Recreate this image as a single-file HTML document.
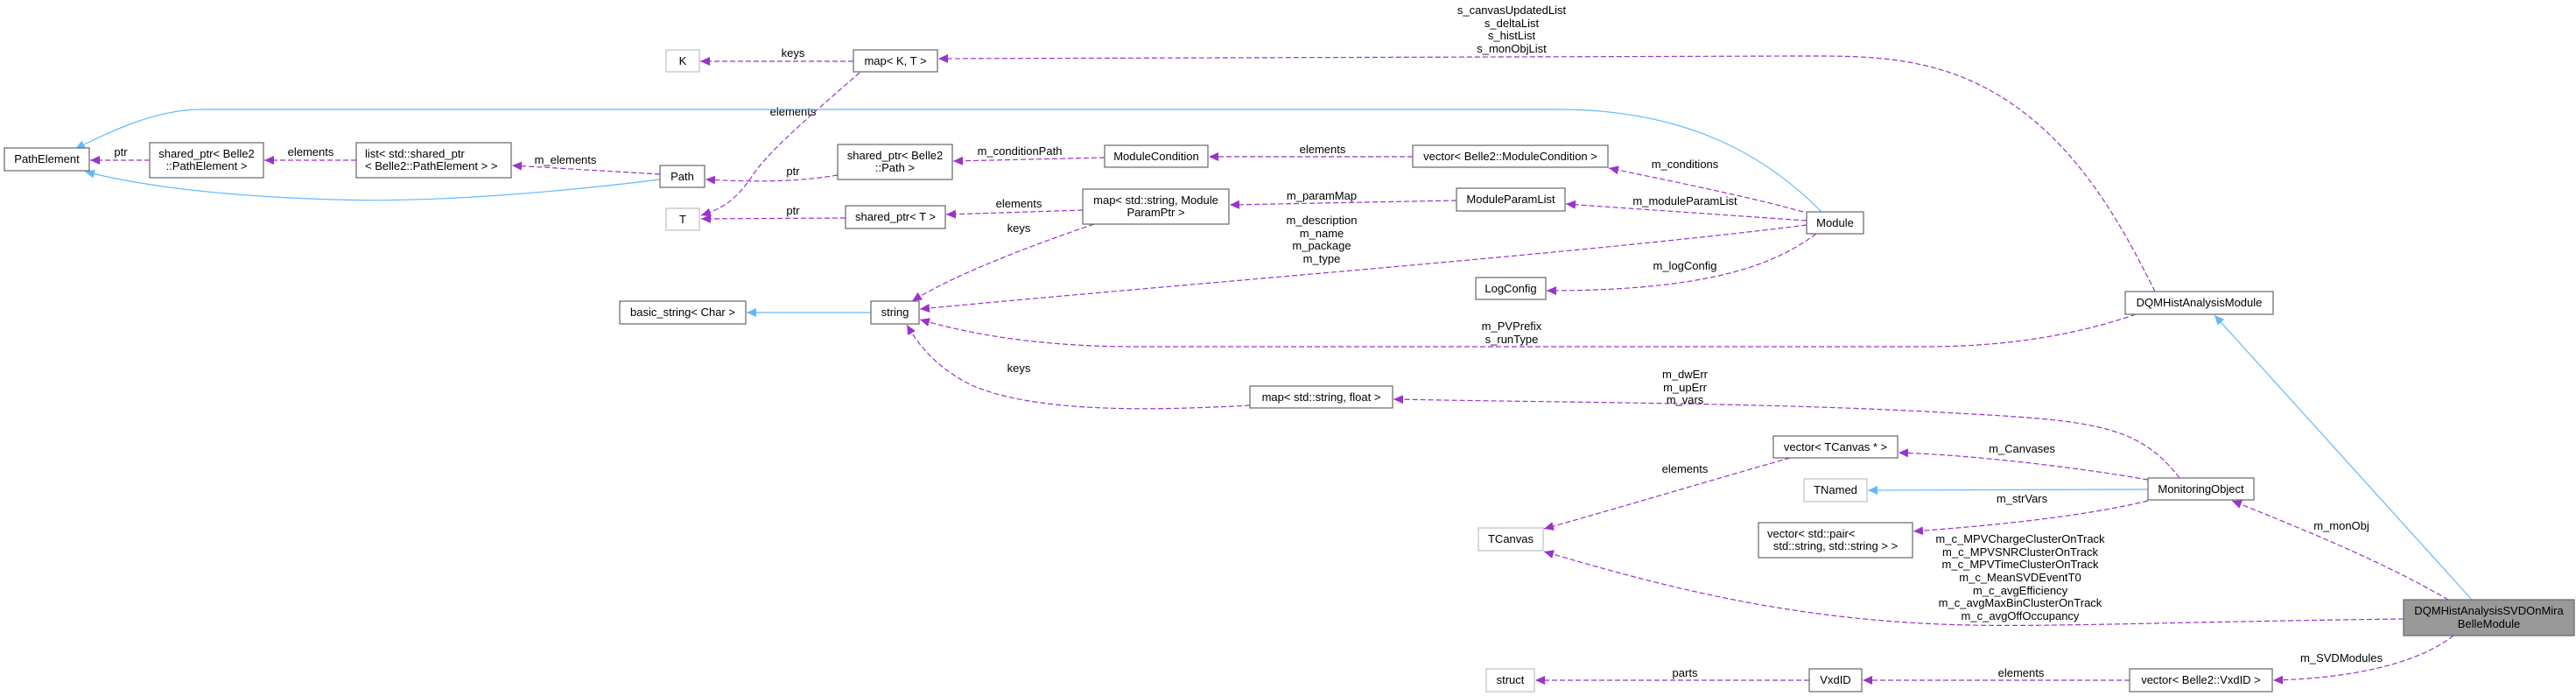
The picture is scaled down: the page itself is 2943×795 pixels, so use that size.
<!DOCTYPE html>
<html><head><meta charset="utf-8"><style>
html,body{margin:0;padding:0;background:#fff;}
svg{display:block;}
text{font-family:"Liberation Sans",Arial,sans-serif;font-size:13px;fill:#000;}
.n{fill:#fff;stroke:#666;stroke-width:1.2;}
.g{fill:#fff;stroke:#bfbfbf;stroke-width:1.2;}
.d{fill:none;stroke:#9a32cd;stroke-width:1.2;stroke-dasharray:6,3;}
.b{fill:none;stroke:#63b8ff;stroke-width:1.2;}
</style></head><body>
<svg width="2943" height="795" viewBox="0 0 2943 795" xmlns="http://www.w3.org/2000/svg">
<defs>
<marker id="ap" markerWidth="12" markerHeight="10" refX="11" refY="5" orient="auto" markerUnits="userSpaceOnUse"><path d="M0,0 L11,5 L0,10 z" fill="#9a32cd"/></marker>
<marker id="ab" markerWidth="12" markerHeight="10" refX="11" refY="5" orient="auto" markerUnits="userSpaceOnUse"><path d="M0,0 L11,5 L0,10 z" fill="#63b8ff"/></marker>
</defs>

<path class="d" marker-end="url(#ap)" d="M975,70 L800,70"/>
<text x="906" y="65" text-anchor="middle">keys</text>
<path class="d" marker-end="url(#ap)" d="M982,83 C940,120 880,170 860,200 C840,230 825,238 801,246"/>
<text x="906" y="132" text-anchor="middle">elements</text>
<path class="d" marker-end="url(#ap)" d="M2462,333 C2420,250 2350,110 2200,75 C2150,63 2100,64 2050,64 L1072,67"/>
<text x="1727" y="16" text-anchor="middle">s_canvasUpdatedList</text>
<text x="1727" y="31" text-anchor="middle">s_deltaList</text>
<text x="1727" y="45" text-anchor="middle">s_histList</text>
<text x="1727" y="60" text-anchor="middle">s_monObjList</text>

<path class="b" marker-end="url(#ab)" d="M2081,242 C2020,180 1930,125 1780,125 L230,125 C180,125 130,148 86,170"/>
<path class="b" marker-end="url(#ab)" d="M754,205 C650,218 500,232 383,228 C250,224 160,212 97,196"/>

<path class="d" marker-end="url(#ap)" d="M171,183 L103,183"/>
<text x="138" y="178" text-anchor="middle">ptr</text>
<path class="d" marker-end="url(#ap)" d="M407,183 L302,183"/>
<text x="355" y="178" text-anchor="middle">elements</text>
<path class="d" marker-end="url(#ap)" d="M754,199 L585,189"/>
<text x="646" y="187" text-anchor="middle">m_elements</text>
<path class="d" marker-end="url(#ap)" d="M957,200 C910,208 860,208 806,205"/>
<text x="906" y="200" text-anchor="middle">ptr</text>
<path class="d" marker-end="url(#ap)" d="M1262,180 L1089,184"/>
<text x="1165" y="177" text-anchor="middle">m_conditionPath</text>
<path class="d" marker-end="url(#ap)" d="M1614,179 L1381,179"/>
<text x="1511" y="175" text-anchor="middle">elements</text>
<path class="d" marker-end="url(#ap)" d="M2060,242 C2000,225 1900,205 1838,192"/>
<text x="1925" y="192" text-anchor="middle">m_conditions</text>
<path class="d" marker-end="url(#ap)" d="M966,249 L801,250"/>
<text x="906" y="245" text-anchor="middle">ptr</text>
<path class="d" marker-end="url(#ap)" d="M1237,240 L1081,245"/>
<text x="1164" y="237" text-anchor="middle">elements</text>
<path class="d" marker-end="url(#ap)" d="M1664,229 L1405,234"/>
<text x="1510" y="228" text-anchor="middle">m_paramMap</text>
<path class="d" marker-end="url(#ap)" d="M2064,252 L1789,233"/>
<text x="1925" y="234" text-anchor="middle">m_moduleParamList</text>
<path class="d" marker-end="url(#ap)" d="M1250,256 C1150,290 1080,320 1042,344"/>
<text x="1164" y="265" text-anchor="middle">keys</text>
<path class="d" marker-end="url(#ap)" d="M2064,257 C1800,290 1400,320 1051,353"/>
<text x="1510" y="256" text-anchor="middle">m_description</text>
<text x="1510" y="271" text-anchor="middle">m_name</text>
<text x="1510" y="285" text-anchor="middle">m_package</text>
<text x="1510" y="300" text-anchor="middle">m_type</text>
<path class="d" marker-end="url(#ap)" d="M2075,267 C2030,300 1960,332 1767,332"/>
<text x="1925" y="308" text-anchor="middle">m_logConfig</text>
<path class="b" marker-end="url(#ab)" d="M995,357 L853,357"/>
<path class="d" marker-end="url(#ap)" d="M2440,359 C2380,380 2300,396 2200,396 L1300,396 C1200,396 1120,385 1051,365"/>
<text x="1727" y="377" text-anchor="middle">m_PVPrefix</text>
<text x="1727" y="392" text-anchor="middle">s_runType</text>
<path class="d" marker-end="url(#ap)" d="M1428,463 C1300,470 1180,470 1110,440 C1070,420 1050,395 1036,371"/>
<text x="1164" y="425" text-anchor="middle">keys</text>
<path class="b" marker-end="url(#ab)" d="M2824,685 L2530,360"/>
<path class="d" marker-end="url(#ap)" d="M2490,546 C2440,480 2380,480 2200,470 C2000,460 1800,460 1592,456"/>
<text x="1925" y="432" text-anchor="middle">m_dwErr</text>
<text x="1925" y="447" text-anchor="middle">m_upErr</text>
<text x="1925" y="461" text-anchor="middle">m_vars</text>
<path class="d" marker-end="url(#ap)" d="M2454,548 C2380,535 2260,520 2169,517"/>
<text x="2310" y="517" text-anchor="middle">m_Canvases</text>
<path class="d" marker-end="url(#ap)" d="M2045,523 C1950,550 1850,580 1764,604"/>
<text x="1925" y="540" text-anchor="middle">elements</text>
<path class="b" marker-end="url(#ab)" d="M2454,559 L2134,560"/>
<path class="d" marker-end="url(#ap)" d="M2454,572 C2380,590 2280,600 2186,607"/>
<text x="2310" y="574" text-anchor="middle">m_strVars</text>
<path class="d" marker-end="url(#ap)" d="M2797,685 C2720,640 2620,600 2550,572"/>
<text x="2675" y="605" text-anchor="middle">m_monObj</text>
<path class="d" marker-end="url(#ap)" d="M2746,707 C2500,710 2350,716 2250,714 C2050,710 1900,670 1764,630"/>
<text x="2308" y="620" text-anchor="middle">m_c_MPVChargeClusterOnTrack</text>
<text x="2308" y="635" text-anchor="middle">m_c_MPVSNRClusterOnTrack</text>
<text x="2308" y="649" text-anchor="middle">m_c_MPVTimeClusterOnTrack</text>
<text x="2308" y="664" text-anchor="middle">m_c_MeanSVDEventT0</text>
<text x="2308" y="679" text-anchor="middle">m_c_avgEfficiency</text>
<text x="2308" y="693" text-anchor="middle">m_c_avgMaxBinClusterOnTrack</text>
<text x="2308" y="708" text-anchor="middle">m_c_avgOffOccupancy</text>
<path class="d" marker-end="url(#ap)" d="M2803,726 C2760,760 2680,775 2597,777"/>
<text x="2675" y="756" text-anchor="middle">m_SVDModules</text>
<path class="d" marker-end="url(#ap)" d="M2433,777 L2128,777"/>
<text x="2309" y="773" text-anchor="middle">elements</text>
<path class="d" marker-end="url(#ap)" d="M2067,777 L1754,777"/>
<text x="1925" y="773" text-anchor="middle">parts</text>

<rect class="n" x="5" y="169" width="97" height="26"/><text x="53.5" y="186" text-anchor="middle">PathElement</text>
<rect class="n" x="171" y="163" width="130" height="40"/><text x="236" y="180" text-anchor="middle">shared_ptr&lt; Belle2</text><text x="236" y="194" text-anchor="middle">::PathElement &gt;</text>
<rect class="n" x="407" y="163" width="177" height="40"/><text x="417" y="180">list&lt; std::shared_ptr</text><text x="417" y="194">&lt; Belle2::PathElement &gt; &gt;</text>
<rect class="n" x="754" y="189" width="51" height="25"/><text x="779.5" y="206" text-anchor="middle">Path</text>
<rect class="g" x="761" y="57" width="38" height="25"/><text x="780" y="74" text-anchor="middle">K</text>
<rect class="g" x="761" y="238" width="38" height="25"/><text x="780" y="255" text-anchor="middle">T</text>
<rect class="n" x="708" y="344" width="144" height="26"/><text x="780" y="361" text-anchor="middle">basic_string&lt; Char &gt;</text>
<rect class="n" x="975" y="57" width="96" height="25"/><text x="1023" y="74" text-anchor="middle">map&lt; K, T &gt;</text>
<rect class="n" x="957" y="165" width="131" height="40"/><text x="1022.5" y="182" text-anchor="middle">shared_ptr&lt; Belle2</text><text x="1022.5" y="196" text-anchor="middle">::Path &gt;</text>
<rect class="n" x="1262" y="166" width="118" height="25"/><text x="1321" y="183" text-anchor="middle">ModuleCondition</text>
<rect class="n" x="1614" y="166" width="223" height="25"/><text x="1725.5" y="183" text-anchor="middle">vector&lt; Belle2::ModuleCondition &gt;</text>
<rect class="n" x="966" y="235" width="114" height="26"/><text x="1023" y="252" text-anchor="middle">shared_ptr&lt; T &gt;</text>
<rect class="n" x="1237" y="216" width="167" height="40"/><text x="1320.5" y="233" text-anchor="middle">map&lt; std::string, Module</text><text x="1320.5" y="247" text-anchor="middle">ParamPtr &gt;</text>
<rect class="n" x="1664" y="215" width="124" height="26"/><text x="1726" y="232" text-anchor="middle">ModuleParamList</text>
<rect class="n" x="995" y="344" width="55" height="26"/><text x="1022.5" y="361" text-anchor="middle">string</text>
<rect class="n" x="1686" y="317" width="80" height="25"/><text x="1726" y="334" text-anchor="middle">LogConfig</text>
<rect class="n" x="2064" y="242" width="65" height="25"/><text x="2096.5" y="259" text-anchor="middle">Module</text>
<rect class="n" x="1428" y="441" width="163" height="25"/><text x="1509.5" y="458" text-anchor="middle">map&lt; std::string, float &gt;</text>
<rect class="g" x="1689" y="603" width="74" height="26"/><text x="1726" y="620" text-anchor="middle">TCanvas</text>
<rect class="g" x="1698" y="764" width="55" height="26"/><text x="1725.5" y="781" text-anchor="middle">struct</text>
<rect class="n" x="2428" y="333" width="169" height="26"/><text x="2512.5" y="350" text-anchor="middle">DQMHistAnalysisModule</text>
<rect class="n" x="2026" y="498" width="142" height="25"/><text x="2097" y="515" text-anchor="middle">vector&lt; TCanvas * &gt;</text>
<rect class="g" x="2061" y="547" width="72" height="26"/><text x="2097" y="564" text-anchor="middle">TNamed</text>
<rect class="n" x="2454" y="546" width="121" height="25"/><text x="2514.5" y="563" text-anchor="middle">MonitoringObject</text>
<rect class="n" x="2009" y="597" width="176" height="40"/><text x="2019" y="614">vector&lt; std::pair&lt;</text><text x="2097" y="628" text-anchor="middle">std::string, std::string &gt; &gt;</text>
<rect x="2746" y="685" width="195" height="41" fill="#999" stroke="#666" stroke-width="1.2"/><text x="2843.5" y="702" text-anchor="middle">DQMHistAnalysisSVDOnMira</text><text x="2843.5" y="717" text-anchor="middle">BelleModule</text>
<rect class="n" x="2067" y="764" width="60" height="26"/><text x="2097" y="781" text-anchor="middle">VxdID</text>
<rect class="n" x="2433" y="764" width="163" height="26"/><text x="2514.5" y="781" text-anchor="middle">vector&lt; Belle2::VxdID &gt;</text>
</svg>
</body></html>
